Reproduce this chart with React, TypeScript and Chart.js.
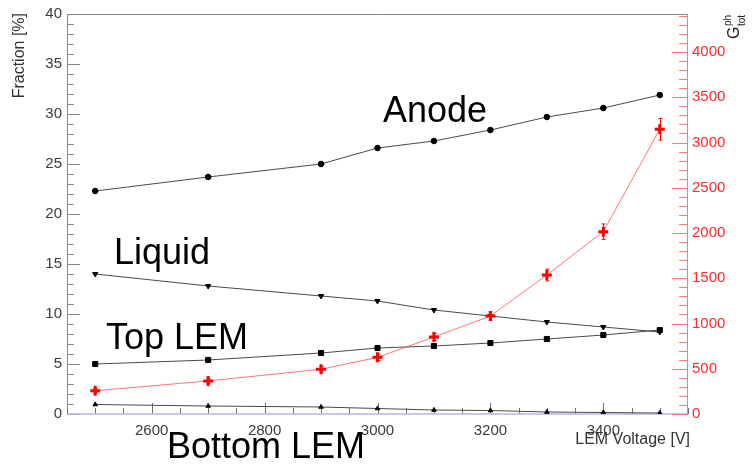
import React, { useEffect, useRef } from "react";
import { Chart, registerables } from "chart.js";

Chart.register(...registerables);

// LEM voltage scan: fraction of light per region (left axis) and total photon gain (right axis)
const voltages = [2500, 2700, 2900, 3000, 3100, 3200, 3300, 3400, 3500];
const anode = [22.3, 23.7, 25.0, 26.6, 27.3, 28.4, 29.7, 30.6, 31.9];
const liquid = [14.0, 12.8, 11.8, 11.3, 10.4, 9.8, 9.2, 8.7, 8.2];
const topLem = [5.0, 5.4, 6.1, 6.6, 6.8, 7.1, 7.5, 7.9, 8.4];
const bottomLem = [0.95, 0.8, 0.7, 0.55, 0.4, 0.35, 0.2, 0.15, 0.1];
const gainPh = [257, 365, 494, 626, 851, 1083, 1536, 2015, 3146];
const gainPhErr = [25, 25, 30, 35, 40, 45, 65, 85, 120];

const xTickValues = [2600, 2800, 3000, 3200, 3400];
const yTickValues = [0, 5, 10, 15, 20, 25, 30, 35, 40];
const y1TickValues = [0, 500, 1000, 1500, 2000, 2500, 3000, 3500, 4000];

const X_MIN = 2450;
const X_MAX = 3550;
const Y_MAX = 40;
const Y1_MAX = 4420;

const FONT = "'Liberation Sans', Arial, Helvetica, sans-serif";
const RED = "#ff0000";

const pts = (ys: number[]) => voltages.map((x, i) => ({ x, y: ys[i] }));

// Frame with inward-pointing ticks on all axes (drawn under the data)
const framePlugin = {
  id: "frame",
  beforeDatasetsDraw(chart: any) {
    const { ctx, chartArea: a, scales } = chart;
    const xs = scales.x;
    const ys = scales.y;
    const y1 = scales.y1;
    ctx.save();
    ctx.lineWidth = 1;

    // left axis
    ctx.strokeStyle = "#8a8a8a";
    ctx.beginPath();
    ctx.moveTo(a.left + 0.5, a.top);
    ctx.lineTo(a.left + 0.5, a.bottom);
    for (let v = 0; v <= Y_MAX; v += 1) {
      const p = Math.round(ys.getPixelForValue(v)) + 0.5;
      const len = v % 5 === 0 ? 13 : 7;
      ctx.moveTo(a.left, p);
      ctx.lineTo(a.left + len, p);
    }
    // top border
    ctx.moveTo(a.left, a.top + 0.5);
    ctx.lineTo(a.right, a.top + 0.5);
    ctx.stroke();

    // bottom axis ticks
    ctx.strokeStyle = "#707070";
    ctx.beginPath();
    for (let v = X_MIN; v <= X_MAX; v += 50) {
      const p = Math.round(xs.getPixelForValue(v)) + 0.5;
      const len = xTickValues.includes(v) ? 11 : 6;
      ctx.moveTo(p, a.bottom);
      ctx.lineTo(p, a.bottom - len);
    }
    ctx.stroke();
    ctx.strokeStyle = "#b4b4e6";
    ctx.lineWidth = 1.5;
    ctx.beginPath();
    ctx.moveTo(a.left, a.bottom);
    ctx.lineTo(a.right, a.bottom);
    ctx.stroke();

    // right axis (red)
    ctx.lineWidth = 1;
    ctx.strokeStyle = "#ff7a7a";
    ctx.beginPath();
    ctx.moveTo(a.right - 0.5, a.top);
    ctx.lineTo(a.right - 0.5, a.bottom);
    for (let v = 0; v <= Y1_MAX; v += 100) {
      const p = Math.round(y1.getPixelForValue(v)) + 0.5;
      const len = v % 500 === 0 ? 16 : 9;
      ctx.moveTo(a.right, p);
      ctx.lineTo(a.right - len, p);
    }
    ctx.stroke();
    ctx.restore();
  },
};

// Vertical error bars on the gain series
const errorBarPlugin = {
  id: "errorBars",
  afterDatasetsDraw(chart: any) {
    const { ctx, scales } = chart;
    const xs = scales.x;
    const y1 = scales.y1;
    ctx.save();
    ctx.strokeStyle = RED;
    ctx.lineWidth = 1;
    voltages.forEach((v, i) => {
      const px = Math.round(xs.getPixelForValue(v)) + 0.5;
      const lo = y1.getPixelForValue(gainPh[i] - gainPhErr[i]);
      const hi = y1.getPixelForValue(gainPh[i] + gainPhErr[i]);
      ctx.beginPath();
      ctx.moveTo(px, lo);
      ctx.lineTo(px, hi);
      ctx.moveTo(px - 2, lo);
      ctx.lineTo(px + 2, lo);
      ctx.moveTo(px - 2, hi);
      ctx.lineTo(px + 2, hi);
      ctx.stroke();
    });
    ctx.restore();
  },
};

// Axis titles and region labels
const textPlugin = {
  id: "texts",
  afterDraw(chart: any) {
    const { ctx, chartArea: a } = chart;
    ctx.save();

    // left axis title, right-aligned to the top of the axis
    ctx.fillStyle = "#333";
    ctx.font = `16px ${FONT}`;
    ctx.translate(20, a.top - 1);
    ctx.rotate(-Math.PI / 2);
    ctx.textAlign = "right";
    ctx.textBaseline = "middle";
    ctx.fillText("Fraction [%]", 0, 0);
    ctx.restore();

    // x axis title
    ctx.save();
    ctx.fillStyle = "#333";
    ctx.font = `16px ${FONT}`;
    ctx.textAlign = "right";
    ctx.textBaseline = "alphabetic";
    ctx.fillText("LEM Voltage [V]", a.right + 2, 444);
    ctx.restore();

    // right axis title G_tot^ph
    ctx.save();
    ctx.fillStyle = "#222";
    ctx.translate(739, 39);
    ctx.rotate(-Math.PI / 2);
    ctx.textAlign = "left";
    ctx.textBaseline = "alphabetic";
    ctx.font = `16px ${FONT}`;
    ctx.fillText("G", 0, 0);
    const gw = ctx.measureText("G").width;
    ctx.font = `10px ${FONT}`;
    ctx.fillText("ph", gw + 0.5, -8);
    ctx.fillText("tot", gw + 0.5, 6);
    ctx.restore();

    // region labels
    ctx.save();
    ctx.fillStyle = "#000";
    ctx.font = `36px ${FONT}`;
    ctx.textAlign = "left";
    ctx.textBaseline = "alphabetic";
    ctx.fillText("Anode", 383, 122);
    ctx.fillText("Liquid", 114, 264);
    ctx.fillText("Top LEM", 106, 349);
    ctx.fillText("Bottom LEM", 167, 458);
    ctx.restore();
  },
};

export default function App() {
  const canvasRef = useRef<HTMLCanvasElement | null>(null);

  useEffect(() => {
    document.body.style.margin = "0";
    const canvas = canvasRef.current;
    if (!canvas) return;

    const blackSeries = (label: string, data: number[], style: string, radius: number, rotation = 0) => ({
      label,
      data: pts(data),
      yAxisID: "y",
      borderColor: "#4a4a4a",
      borderWidth: 1,
      pointStyle: style,
      pointRadius: radius,
      pointRotation: rotation,
      pointBackgroundColor: "#000",
      pointBorderColor: "#000",
      pointBorderWidth: 1,
      tension: 0,
    });

    const tickFont = { size: 15, family: FONT };

    const chart = new Chart(canvas, {
      type: "line",
      data: {
        datasets: [
          {
            label: "G_tot^ph",
            data: pts(gainPh),
            yAxisID: "y1",
            borderColor: "rgba(255,60,60,0.7)",
            borderWidth: 1,
            pointStyle: "cross",
            pointRadius: 5,
            pointBorderWidth: 3,
            pointBorderColor: RED,
            pointBackgroundColor: RED,
            tension: 0,
          },
          blackSeries("Anode", anode, "circle", 2.8),
          blackSeries("Liquid", liquid, "triangle", 3, 180),
          blackSeries("Top LEM", topLem, "rect", 3.6),
          blackSeries("Bottom LEM", bottomLem, "triangle", 2.6),
        ],
      },
      options: {
        responsive: false,
        animation: false,
        devicePixelRatio: 1,
        layout: { padding: { top: 13, left: 0, right: 0, bottom: 0 } },
        plugins: {
          legend: { display: false },
          tooltip: { enabled: false },
        },
        scales: {
          x: {
            type: "linear",
            min: X_MIN,
            max: X_MAX,
            afterBuildTicks: (s: any) => {
              s.ticks = xTickValues.map((value) => ({ value }));
            },
            afterFit: (s: any) => {
              s.height = 51;
            },
            grid: { display: false, drawTicks: false },
            border: { display: false },
            ticks: {
              color: "#3a3a3a",
              font: tickFont,
              padding: 8,
              maxRotation: 0,
              autoSkip: false,
              callback: (v: any) => String(v),
            },
          },
          y: {
            type: "linear",
            position: "left",
            min: 0,
            max: Y_MAX,
            afterBuildTicks: (s: any) => {
              s.ticks = yTickValues.map((value) => ({ value }));
            },
            afterFit: (s: any) => {
              s.width = 67;
            },
            grid: { display: false, drawTicks: false },
            border: { display: false },
            ticks: {
              color: "#3a3a3a",
              font: tickFont,
              padding: 5,
              callback: (v: any) => String(v),
            },
          },
          y1: {
            type: "linear",
            position: "right",
            min: 0,
            max: Y1_MAX,
            afterBuildTicks: (s: any) => {
              s.ticks = y1TickValues.map((value) => ({ value }));
            },
            afterFit: (s: any) => {
              s.width = 66;
            },
            grid: { display: false, drawTicks: false },
            border: { display: false },
            ticks: {
              color: "#ff2a2a",
              font: tickFont,
              padding: 4,
              callback: (v: any) => String(v),
            },
          },
        },
      },
      plugins: [framePlugin, errorBarPlugin, textPlugin],
    } as any);

    return () => chart.destroy();
  }, []);

  return (
    <div style={{ width: 754, height: 465, background: "#fff" }}>
      <canvas ref={canvasRef} width={754} height={465} style={{ display: "block" }} />
    </div>
  );
}
